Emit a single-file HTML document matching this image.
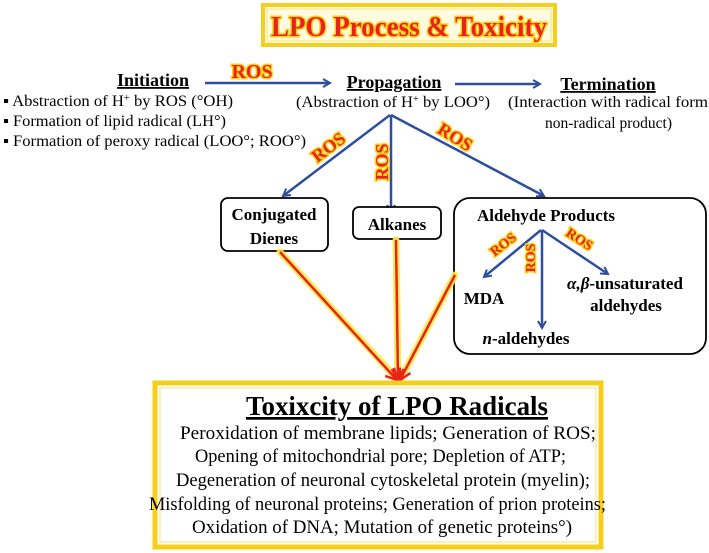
<!DOCTYPE html>
<html><head><meta charset="utf-8"><style>
html,body{margin:0;padding:0;background:#fff;}
svg{display:block;}
text{font-family:"Liberation Serif",serif;}
.b{font-weight:bold;}
.ros{font-weight:bold;fill:#e8231b;stroke:#ffd21a;stroke-width:3;paint-order:stroke;}
</style></head><body>
<svg width="709" height="553" viewBox="0 0 709 553" xmlns="http://www.w3.org/2000/svg">
<defs>
<marker id="a" markerWidth="10" markerHeight="10" refX="8" refY="5" orient="auto" markerUnits="userSpaceOnUse"><path d="M1,1 L8,5 L1,9" fill="none" stroke="#2e4f9e" stroke-width="2"/></marker>
<marker id="r" markerWidth="16" markerHeight="16" refX="12" refY="8" orient="auto" markerUnits="userSpaceOnUse"><path d="M1,2 L12,8 L1,14" fill="none" stroke="#e8231b" stroke-width="2.5"/></marker>
</defs>
<!-- title -->
<rect x="263" y="5" width="292" height="40" fill="#fffbe0" stroke="#f5cf1e" stroke-width="4"/>
<rect x="267" y="9" width="284" height="32" fill="none" stroke="#f9e27a" stroke-width="1"/>
<text x="409" y="36" text-anchor="middle" class="b" font-size="28" textLength="276" lengthAdjust="spacingAndGlyphs" fill="#e8231b" stroke="#ffd21a" stroke-width="3" paint-order="stroke">LPO Process &amp; Toxicity</text>
<!-- top row -->
<text x="153" y="86" text-anchor="middle" class="b" font-size="18" text-decoration="underline">Initiation</text>
<line x1="205" y1="83" x2="330" y2="83" stroke="#2e4f9e" stroke-width="2.5" marker-end="url(#a)"/>
<text x="252" y="78" text-anchor="middle" class="ros" style="font-size:20px">ROS</text>
<text x="394" y="88" text-anchor="middle" class="b" font-size="18" text-decoration="underline">Propagation</text>
<line x1="455" y1="84" x2="540" y2="84" stroke="#2e4f9e" stroke-width="2.5" marker-end="url(#a)"/>
<text x="608" y="90" text-anchor="middle" class="b" font-size="18" text-decoration="underline">Termination</text>
<text x="296" y="107" font-size="16" textLength="194" lengthAdjust="spacingAndGlyphs">(Abstraction of H<tspan font-size="10" dy="-5">+</tspan><tspan dy="5"> by LOO°)</tspan></text>
<text x="508" y="107" font-size="16" textLength="200" lengthAdjust="spacingAndGlyphs">(Interaction with radical form</text>
<text x="545" y="128" font-size="16" textLength="127" lengthAdjust="spacingAndGlyphs">non-radical product)</text>
<text x="3" y="106" font-size="16" textLength="230" lengthAdjust="spacingAndGlyphs">▪ Abstraction of H<tspan font-size="10" dy="-5">+</tspan><tspan dy="5"> by ROS (°OH)</tspan></text>
<text x="3" y="126" font-size="16" textLength="223" lengthAdjust="spacingAndGlyphs">▪ Formation of lipid radical (LH°)</text>
<text x="3" y="146" font-size="16" textLength="303" lengthAdjust="spacingAndGlyphs">▪ Formation of peroxy radical (LOO°; ROO°)</text>
<!-- branches -->
<line x1="390" y1="115" x2="283" y2="196" stroke="#2e4f9e" stroke-width="2.5" marker-end="url(#a)"/>
<line x1="391" y1="115" x2="391" y2="212" stroke="#2e4f9e" stroke-width="2.5" marker-end="url(#a)"/>
<line x1="391" y1="115" x2="544" y2="196" stroke="#2e4f9e" stroke-width="2.5" marker-end="url(#a)"/>
<text transform="translate(332,152) rotate(-37)" text-anchor="middle" class="ros" style="font-size:18px">ROS</text>
<text transform="translate(388,162) rotate(-90)" text-anchor="middle" class="ros" style="font-size:18px">ROS</text>
<text transform="translate(452,142) rotate(32)" text-anchor="middle" class="ros" style="font-size:18px">ROS</text>
<!-- boxes -->
<rect x="221" y="198" width="107" height="53" rx="7" fill="#fff" stroke="#000" stroke-width="1.8"/>
<text x="274" y="220" text-anchor="middle" class="b" font-size="17">Conjugated</text>
<text x="274" y="244" text-anchor="middle" class="b" font-size="17">Dienes</text>
<rect x="353" y="207" width="88" height="32" rx="6" fill="#fff" stroke="#000" stroke-width="1.8"/>
<text x="397" y="230" text-anchor="middle" class="b" font-size="17">Alkanes</text>
<rect x="454" y="198" width="252" height="156" rx="16" fill="#fff" stroke="#000" stroke-width="1.8"/>
<text x="546" y="221" text-anchor="middle" class="b" font-size="17">Aldehyde Products</text>
<line x1="541" y1="230" x2="484" y2="277" stroke="#2e4f9e" stroke-width="2.5" marker-end="url(#a)"/>
<line x1="542" y1="230" x2="542" y2="328" stroke="#2e4f9e" stroke-width="2.5" marker-end="url(#a)"/>
<line x1="542" y1="230" x2="608" y2="274" stroke="#2e4f9e" stroke-width="2.5" marker-end="url(#a)"/>
<text transform="translate(506,248) rotate(-38)" text-anchor="middle" class="ros" style="font-size:14px">ROS</text>
<text transform="translate(535,258) rotate(-90)" text-anchor="middle" class="ros" style="font-size:14px">ROS</text>
<text transform="translate(577,243) rotate(33)" text-anchor="middle" class="ros" style="font-size:14px">ROS</text>
<text x="484" y="304" text-anchor="middle" class="b" font-size="17">MDA</text>
<text x="625" y="289" text-anchor="middle" class="b" font-size="17"><tspan font-style="italic">α,β</tspan>-unsaturated</text>
<text x="626" y="311" text-anchor="middle" class="b" font-size="17">aldehydes</text>
<text x="526" y="344" text-anchor="middle" class="b" font-size="17"><tspan font-style="italic">n</tspan>-aldehydes</text>
<!-- red/yellow lines -->
<g stroke="#ffe94a" stroke-width="7" stroke-linecap="round" opacity="0.9">
<line x1="280" y1="252" x2="398" y2="380"/>
<line x1="396" y1="240" x2="398" y2="380"/>
<line x1="455" y1="275" x2="400" y2="380"/>
</g>
<g stroke="#e8231b" stroke-width="2.5">
<line x1="280" y1="252" x2="397" y2="380" marker-end="url(#r)"/>
<line x1="396" y1="240" x2="398" y2="380" marker-end="url(#r)"/>
<line x1="455" y1="275" x2="400" y2="380" marker-end="url(#r)"/>
</g>
<!-- bottom box -->
<rect x="155" y="383" width="446" height="164" fill="#fff" stroke="#f5cf1e" stroke-width="5"/>
<rect x="160" y="388" width="436" height="154" fill="none" stroke="#f9e27a" stroke-width="1"/>
<text x="246" y="415" class="b" font-size="27" textLength="302" lengthAdjust="spacingAndGlyphs" text-decoration="underline">Toxixcity of LPO Radicals</text>
<text x="180" y="439" font-size="19" textLength="416" lengthAdjust="spacingAndGlyphs">Peroxidation of membrane lipids; Generation of ROS;</text>
<text x="195" y="462" font-size="19" textLength="371" lengthAdjust="spacingAndGlyphs">Opening of mitochondrial pore; Depletion of ATP;</text>
<text x="176" y="486" font-size="19" textLength="414" lengthAdjust="spacingAndGlyphs">Degeneration of neuronal cytoskeletal protein (myelin);</text>
<text x="149" y="510" font-size="19" textLength="457" lengthAdjust="spacingAndGlyphs">Misfolding of neuronal proteins; Generation of prion proteins;</text>
<text x="192" y="533" font-size="19" textLength="380" lengthAdjust="spacingAndGlyphs">Oxidation of DNA; Mutation of genetic proteins°)</text>
</svg>
</body></html>
